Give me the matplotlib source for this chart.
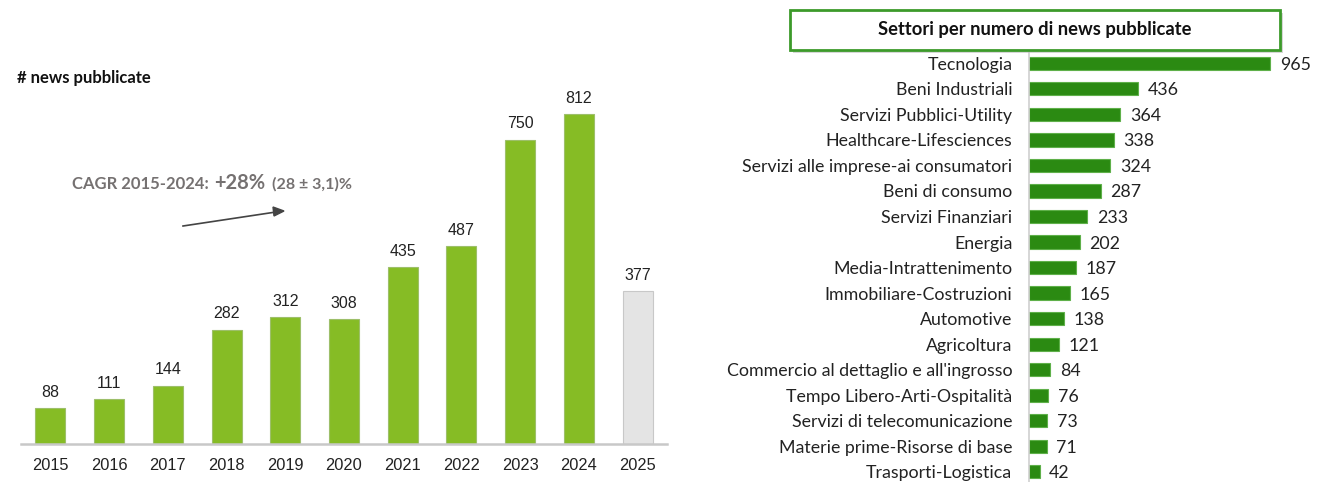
import matplotlib.pyplot as plt
from matplotlib.patches import FancyBboxPatch

# news pubblicate per anno
years = ["2015", "2016", "2017", "2018", "2019", "2020", "2021", "2022", "2023", "2024", "2025"]
news = [88, 111, 144, 282, 312, 308, 435, 487, 750, 812, 377]

# settori
sectors = ["Tecnologia", "Beni Industriali", "Servizi Pubblici-Utility", "Healthcare-Lifesciences",
           "Servizi alle imprese-ai consumatori", "Beni di consumo", "Servizi Finanziari", "Energia",
           "Media-Intrattenimento", "Immobiliare-Costruzioni", "Automotive", "Agricoltura",
           "Commercio al dettaglio e all'ingrosso", "Tempo Libero-Arti-Ospitalità",
           "Servizi di telecomunicazione", "Materie prime-Risorse di base", "Trasporti-Logistica"]
sector_news = [965, 436, 364, 338, 324, 287, 233, 202, 187, 165, 138, 121, 84, 76, 73, 71, 42]

W, H = 1326, 482
fig = plt.figure(figsize=(W / 100, H / 100), dpi=100)
plt.rcParams['font.family'] = ['Liberation Sans', 'DejaVu Sans']
SANS2 = ["Lato", "DejaVu Sans"]

GREEN = "#86BC25"
GREY_BAR = "#E4E4E4"
DARK_GREEN = "#2B8A12"

# --- left: bars per year ---
ax1 = fig.add_axes([21 / W, (H - 444) / H, (667 - 21) / W, 384 / H])
colors = [GREEN] * (len(years) - 1) + [GREY_BAR]
edges = ["#9DBF6A"] * (len(years) - 1) + ["#C8C8C8"]
x = range(len(years))
ax1.bar(x, news, width=0.51, color=colors, edgecolor=edges, linewidth=0.8)
for i, v in enumerate(news):
    ax1.annotate(str(v), (i, v), xytext=(0, 6), textcoords="offset points",
                 ha="center", va="bottom", fontsize=11.5, color="#222222")
ax1.set_xlim(-0.5, len(years) - 0.5)
ax1.set_ylim(0, 384 / 0.406)
ax1.set_xticks(list(x))
ax1.set_xticklabels(years, fontsize=11.8, color="#222222")
ax1.tick_params(axis="x", length=0, pad=10)
ax1.set_yticks([])
for s in ["top", "right", "left"]:
    ax1.spines[s].set_visible(False)
ax1.spines["bottom"].set_color("#C8C8C8")
ax1.spines["bottom"].set_linewidth(1.8)

fig.text(17 / W, 1 - 78 / H, "# news pubblicate", fontsize=12, fontweight="bold",
         va="center", ha="left", color="#111111", family=SANS2)

# CAGR annotation, pieces laid out one after the other
renderer = fig.canvas.get_renderer()
cagr_y = 1 - 189 / H
xpos = 72 / W
for txt, fs, gap in [("CAGR 2015-2024:", 12, 5), ("+28%", 14.5, 7), ("(28 ± 3,1)%", 11.5, 0)]:
    t = fig.text(xpos, cagr_y, txt, fontsize=fs, fontweight="bold", color="#757171",
                 va="baseline", ha="left", family=SANS2)
    bb = t.get_window_extent(renderer)
    xpos += (bb.width + gap) / W
fig.add_artist(plt.Line2D([183 / W, 276 / W], [1 - 226 / H, 1 - 212 / H],
                          color="#444444", linewidth=1.2))
fig.patches.append(plt.Polygon([[284 / W, 1 - 211 / H], [273 / W, 1 - 207 / H], [274 / W, 1 - 216 / H]],
                               closed=True, color="#444444", transform=fig.transFigure))

# --- right: sectors ---
ax2 = fig.add_axes([1029 / W, 0, (W - 1029) / W, (H - 48) / H])
y = range(len(sectors))
ax2.barh(y, sector_news, height=0.52, color=DARK_GREEN, edgecolor="#5FB04A", linewidth=0.8)
for i, v in enumerate(sector_news):
    ax2.annotate(str(v), (v, i), xytext=(7, 0), textcoords="offset points",
                 ha="left", va="center_baseline", fontsize=12.8, color="#222222", family=SANS2)
ax2.set_ylim(len(sectors) - 0.6, -0.6)
ax2.set_xlim(0, (W - 1029) / 0.25)
ax2.set_yticks(list(y))
ax2.set_yticklabels(sectors, fontsize=12.8, color="#222222", family=SANS2)
for lab in ax2.get_yticklabels():
    lab.set_verticalalignment("center_baseline")
ax2.tick_params(axis="y", length=0, pad=12)
ax2.set_xticks([])
for s in ["top", "right", "bottom"]:
    ax2.spines[s].set_visible(False)
ax2.spines["left"].set_color("#D0D0D0")
ax2.spines["left"].set_linewidth(1.2)

# title box with shadow
shadow = FancyBboxPatch((793 / W, 1 - 53 / H), (1283 - 793) / W, 40 / H, boxstyle="square,pad=0",
                        transform=fig.transFigure, facecolor="#BBBBBB", edgecolor="none", alpha=0.6)
box = FancyBboxPatch((790 / W, 1 - 50 / H), (1280 - 790) / W, 40 / H, boxstyle="square,pad=0",
                     transform=fig.transFigure, facecolor="white", edgecolor="#3C9A2A", linewidth=2)
fig.patches.extend([shadow, box])
fig.text(1035 / W, 1 - 30 / H, "Settori per numero di news pubblicate", fontsize=13.2,
         fontweight="bold", ha="center", va="center", color="#111111", family=SANS2)

fig.savefig("out.png", dpi=100)
